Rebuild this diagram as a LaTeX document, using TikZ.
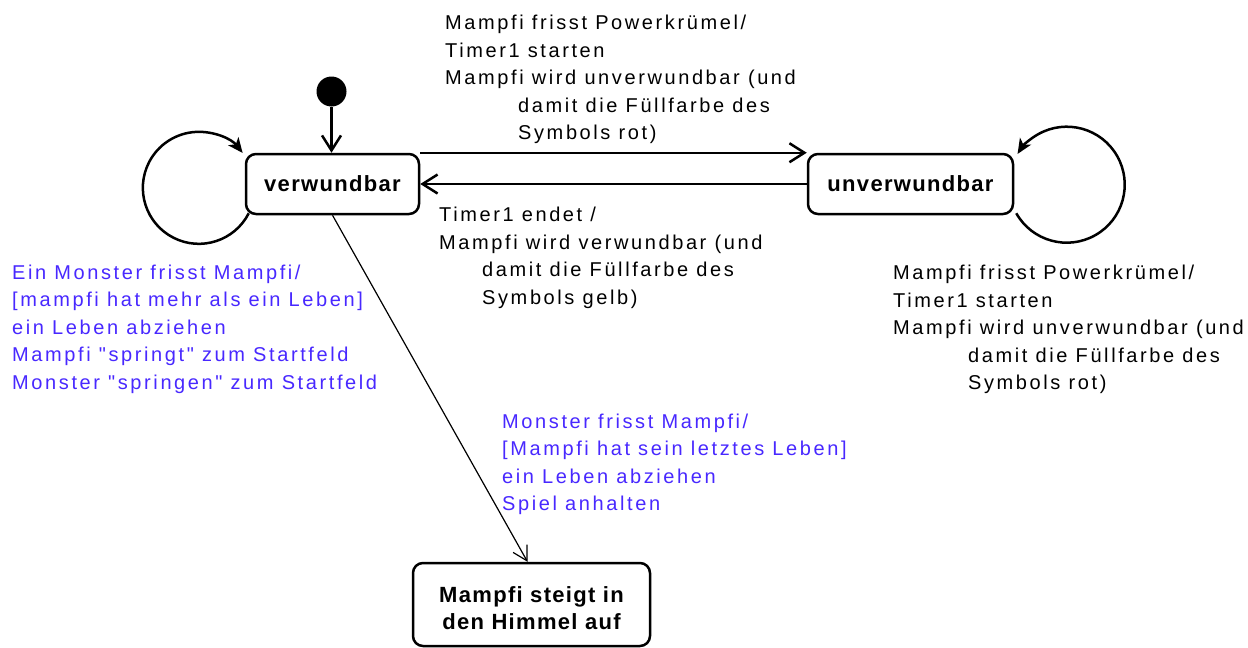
\documentclass[tikz,border=0pt]{standalone}
\usepackage{fontspec}
\setmainfont{Liberation Sans}
\newfontfamily\regfont{Liberation Sans}[LetterSpace=13]
\newfontfamily\bfont{Liberation Sans}[LetterSpace=6]
\usetikzlibrary{arrows.meta}
\definecolor{umlblue}{RGB}{72,40,255}
\tikzset{
  statebox/.style={draw, line width=2.5pt, rounded corners=10pt, align=center, inner sep=0pt,
    font=\bfont\bfseries\fontsize{22}{27}\selectfont},
  lbl/.style={font=\regfont\fontsize{20}{27.5}\selectfont, inner sep=0pt, anchor=base west},
  thickline/.style={line width=2.5pt},
  openarrow/.style={-{Straight Barb[length=15pt,width=19pt]}},
  thinarrow/.style={line width=1.2pt, -{Straight Barb[length=14pt,width=16pt]}},
  looptip/.style={line width=2.5pt, -{Stealth[length=15pt,width=13pt,inset=4pt]}}
}
\newcommand{\tb}[1]{\begin{tabular}[t]{@{}l@{}}#1\end{tabular}}
\begin{document}
\begin{tikzpicture}[x=1pt,y=-1pt]
\useasboundingbox (0,0) rectangle (1248,648);
% states
\node[statebox, minimum width=173pt, minimum height=60pt] (v) at (332.5,184) {verwundbar};
\node[statebox, minimum width=205pt, minimum height=60pt] (u) at (910.5,184) {unverwundbar};
\node[statebox, minimum width=237pt, minimum height=83pt] (f) at (531.5,604.5)
  {\raisebox{-6pt}[\height][\depth]{\begin{tabular}{@{}c@{}}Mampfi steigt in\\den Himmel auf\end{tabular}}};
\node[circle, fill=black, minimum size=30pt, inner sep=0pt] (init) at (331.5,91.5) {};
% connectors
\draw[thickline, openarrow] (init.south) -- (init.south |- v.north);
\draw[thickline, openarrow] (v.north east) -- (u.north west);
\draw[thickline, openarrow] (u.west) -- (v.east);
\draw[thinarrow] (v.south) -- ([xshift=-4pt]f.north);
\draw[looptip] ([shift={(4,-2)}]v.south west) arc[start angle=27, end angle=321.5, radius=56];
\draw[looptip] ([shift={(2,-2)}]u.south east) arc[start angle=150.5, end angle=-148, radius=58];
% labels
\node[lbl] (t1) at (445,29.5) {\tb{Mampfi frisst Powerkrümel/\\Timer1 starten\\Mampfi wird unverwundbar (und\\\hspace*{73pt}damit die Füllfarbe des\\\hspace*{73pt}Symbols rot)}};
\node[lbl] (t2) at (439,221.5) {\tb{Timer1 endet /\\Mampfi wird verwundbar (und\\\hspace*{43pt}damit die Füllfarbe des\\\hspace*{43pt}Symbols gelb)}};
\node[lbl, text=umlblue] (t3) at (12,279) {\tb{Ein Monster frisst Mampfi/\\{[mampfi hat mehr als ein Leben]}\\ein Leben abziehen\\Mampfi "springt" zum Startfeld\\Monster "springen" zum Startfeld}};
\node[lbl] (t4) at (893,279.5) {\tb{Mampfi frisst Powerkrümel/\\Timer1 starten\\Mampfi wird unverwundbar (und\\\hspace*{75pt}damit die Füllfarbe des\\\hspace*{75pt}Symbols rot)}};
\node[lbl, text=umlblue] (t5) at (502,428) {\tb{Monster frisst Mampfi/\\{[Mampfi hat sein letztes Leben]}\\ein Leben abziehen\\Spiel anhalten}};
\end{tikzpicture}
\end{document}
